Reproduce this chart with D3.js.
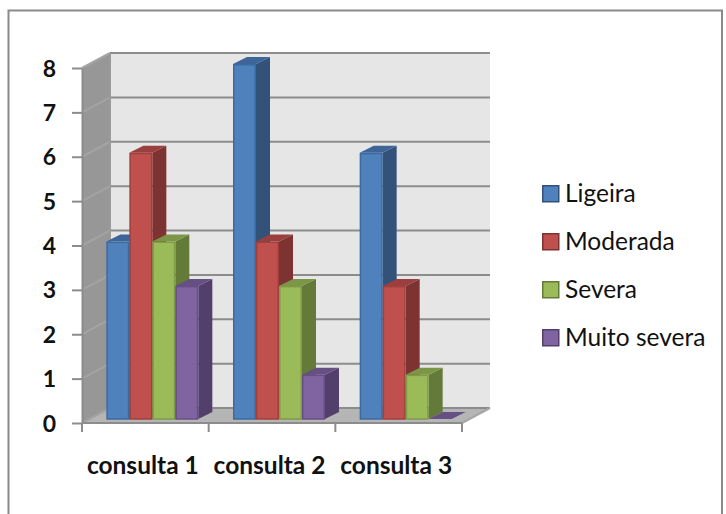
<!DOCTYPE html>
<html>
<head>
<meta charset="utf-8">
<script src="https://cdn.jsdelivr.net/npm/d3@7/dist/d3.min.js"></script>
<style>
html,body{margin:0;padding:0;background:#fff}
svg{display:block}
text{font-family:Lato,"Open Sans",sans-serif;fill:#111}
</style>
</head>
<body>
<svg id="chart" width="726" height="514"></svg>
<script>
// Chart values
const categories = ["consulta 1", "consulta 2", "consulta 3"];
const seriesNames = ["Ligeira", "Moderada", "Severa", "Muito severa"];
const ligeira = [4, 8, 6];
const moderada = [6, 4, 3];
const severa = [4, 3, 1];
const muitoSevera = [3, 1, 0];
const yTicks = [0, 1, 2, 3, 4, 5, 6, 7, 8];

const seriesValues = [ligeira, moderada, severa, muitoSevera];
const faceColors = ["#4f81bd", "#c0504d", "#9bbb59", "#8064a2"];
const sideColors = ["#33527a", "#7c3331", "#647a39", "#533f6b"];
const topColors = ["#3e6597", "#9a3f3d", "#7c9647", "#664f82"];
const edgeColors = ["#3a6a9f", "#a03f3c", "#7f9b45", "#674f86"];

const svg = d3.select("#chart");

// Outer frame, open along the bottom edge of the page
svg.append("path")
  .attr("d", "M8.5,514V10.5H722V514")
  .attr("fill", "none").attr("stroke", "#8a8a8a").attr("stroke-width", 2);

const x = d3.scaleBand().domain(categories).range([82, 462]).paddingInner(0.2737).paddingOuter(0.1368);
const inner = d3.scaleBand().domain(d3.range(seriesNames.length)).range([0, x.bandwidth()]);
const y = d3.scaleLinear().domain([0, 8]).range([423, 68]);

// Oblique projection: wall depth and bar placement within that depth
const wall = {dx: 28, dy: -15};
const barFront = {dx: 7, dy: -4};
const barDepth = {dx: 14, dy: -7};
const x0 = x.range()[0], x1 = x.range()[1];

const poly = pts => "M" + pts.map(p => p.join(",")).join("L") + "Z";

// Back wall, side wall and floor
svg.append("path").attr("fill", "#e6e6e6")
  .attr("d", poly([[x0 + wall.dx, y(8) + wall.dy], [x1 + wall.dx, y(8) + wall.dy], [x1 + wall.dx, y(0) + wall.dy], [x0 + wall.dx, y(0) + wall.dy]]));
svg.append("path").attr("fill", "#979797")
  .attr("d", poly([[x0, y(8)], [x0 + wall.dx, y(8) + wall.dy], [x0 + wall.dx, y(0) + wall.dy], [x0, y(0)]]));
svg.append("path").attr("fill", "#b5b5b5")
  .attr("d", poly([[x0, y(0)], [x0 + wall.dx, y(0) + wall.dy], [x1 + wall.dx, y(0) + wall.dy], [x1, y(0)]]));

// Gridlines continue from the back wall across the side wall
const grid = svg.append("g").attr("fill", "none").attr("stroke-width", 2);
yTicks.forEach(t => {
  grid.append("path").attr("stroke", "#8c8c8c")
    .attr("d", `M${x0 + wall.dx},${y(t) + wall.dy}H${x1 + wall.dx}`);
  grid.append("path").attr("stroke", "#a3a3a3")
    .attr("d", `M${x0},${y(t)}L${x0 + wall.dx},${y(t) + wall.dy}`);
});
grid.append("path").attr("stroke", "#a6a6a6")
  .attr("d", `M${x1},${y(0)}L${x1 + wall.dx},${y(0) + wall.dy}`);
grid.append("path").attr("stroke", "#9a9a9a")
  .attr("d", `M${x0 + wall.dx},${y(8) + wall.dy}V${y(0) + wall.dy}`);

// Bars, painted left to right so each front face hides its neighbour's side
const barWidth = inner.bandwidth();
categories.forEach((cat, c) => {
  seriesValues.forEach((vals, s) => {
    const g = svg.append("g");
    const left = x(cat) + inner(s) + barFront.dx;
    const right = left + barWidth;
    const top = y(vals[c]) + barFront.dy;
    const base = y(0) + barFront.dy;
    const d = barDepth;
    g.append("path").attr("fill", sideColors[s])
      .attr("d", poly([[right, top], [right + d.dx, top + d.dy], [right + d.dx, base + d.dy], [right, base]]));
    g.append("path").attr("fill", topColors[s])
      .attr("d", poly([[left, top], [left + d.dx, top + d.dy], [right + d.dx, top + d.dy], [right, top]]));
    if (vals[c] > 0) {
      g.append("rect").attr("x", left + 0.75).attr("y", top + 0.75)
        .attr("width", barWidth - 1.5).attr("height", base - top - 0.75)
        .attr("fill", faceColors[s]).attr("stroke", edgeColors[s]).attr("stroke-width", 1.5);
    }
  });
});

// Value axis
const yAxis = svg.append("g").attr("transform", `translate(${x0},0)`)
  .call(d3.axisLeft(y).tickValues(yTicks).tickSize(10).tickPadding(16).tickSizeOuter(0));
yAxis.select(".domain").attr("stroke", "#8c8c8c").attr("stroke-width", 2);
yAxis.selectAll("line").attr("stroke", "#8c8c8c").attr("stroke-width", 2);
yAxis.selectAll("text").style("font-size", "23px").style("font-weight", 700)
  .attr("dy", "0.35em");

// Category axis: ticks sit on the band boundaries, labels on the band centres
const edges = d3.range(categories.length + 1).map(i => x0 + i * x.step());
const xAxisG = svg.append("g");
xAxisG.append("path").attr("d", `M${x0},${y(0)}H${x1}`).attr("stroke", "#8c8c8c").attr("stroke-width", 2);
xAxisG.selectAll("line").data(edges).join("line")
  .attr("x1", d => d).attr("x2", d => d).attr("y1", y(0)).attr("y2", y(0) + 9)
  .attr("stroke", "#8c8c8c").attr("stroke-width", 2);
xAxisG.selectAll("text").data(categories).join("text")
  .attr("x", d => x(d) + x.bandwidth() / 2 - 2.5).attr("y", 474)
  .attr("text-anchor", "middle")
  .style("font-size", "24.5px").style("font-weight", 700)
  .text(d => d);

// Legend
const legendY = d3.scalePoint().domain(seriesNames).range([185, 329]);
const legend = svg.append("g").selectAll("g").data(seriesNames).join("g")
  .attr("transform", d => `translate(542,${legendY(d)})`);
legend.append("rect").attr("x", 0.75).attr("y", 0.75).attr("width", 16).attr("height", 16)
  .attr("fill", (d, i) => faceColors[i]).attr("stroke", (d, i) => sideColors[i]).attr("stroke-width", 1.5);
legend.append("text").attr("x", 23).attr("y", 17)
  .style("font-size", "24.5px")
  .text(d => d);
</script>
</body>
</html>
